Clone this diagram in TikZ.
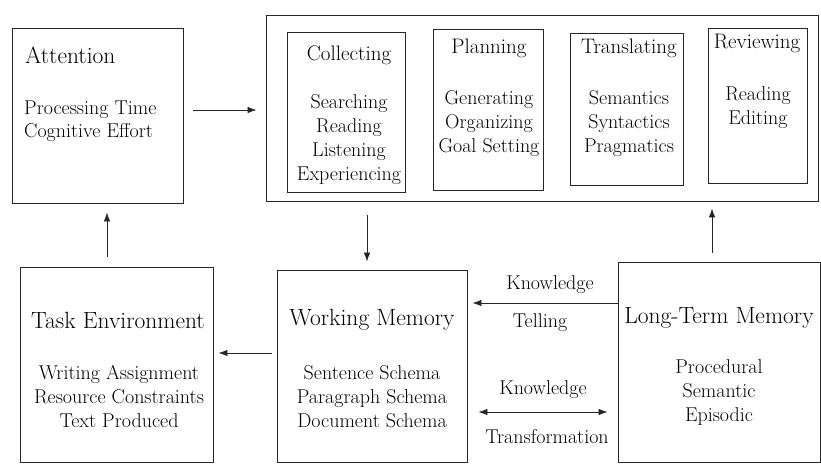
\documentclass[tikz,border=0pt]{standalone}
\usetikzlibrary{arrows.meta}
\tikzset{
  box/.style={draw=black!85, line width=0.9pt, inner sep=0pt},
  arr/.style={draw=black!85, line width=0.8pt, -{Latex[length=9pt,width=6.5pt]}},
  darr/.style={draw=black!85, line width=0.8pt, {Latex[length=9pt,width=6.5pt]}-{Latex[length=9pt,width=6.5pt]}},
  bigt/.style={font=\fontsize{23.5}{27}\selectfont, inner sep=0pt},
  midt/.style={font=\fontsize{21}{24}\selectfont, inner sep=0pt},
  body/.style={font=\fontsize{20}{24}\selectfont, align=center, inner sep=0pt},
  bodyl/.style={font=\fontsize{20}{22.5}\selectfont, align=left, inner sep=0pt, anchor=west},
}
\begin{document}
\begin{tikzpicture}[x=1pt,y=-1pt]
\useasboundingbox (0,0) rectangle (821,465);
% boxes
\node[box, minimum width=171pt, minimum height=175pt] (att) at (97.5,115.5) {};
\node[box, minimum width=552pt, minimum height=186pt] (outer) at (542,108) {};
\node[box, minimum width=118pt, minimum height=160pt] (col) at (346,112) {};
\node[box, minimum width=110pt, minimum height=161pt] (pla) at (488,109.5) {};
\node[box, minimum width=113pt, minimum height=152pt] (tra) at (626.5,109) {};
\node[box, minimum width=99pt, minimum height=155pt] (rev) at (757.5,105.5) {};
\node[box, minimum width=193pt, minimum height=195pt] (task) at (116.5,364.5) {};
\node[box, minimum width=190pt, minimum height=192pt] (wm) at (372,366) {};
\node[box, minimum width=202pt, minimum height=200pt] (ltm) at (719,362) {};
% texts
\node[bigt, anchor=west] (attT) at (25,55) {Attention};
\node[bodyl] (attB) at (24,121) {Processing Time\\Cognitive Effort};
\node[midt] (colT) at (349,55) {Collecting};
\node[body] (colB) at (349,139.5) {Searching\\Reading\\Listening\\Experiencing};
\node[midt] (plaT) at (489,48) {Planning};
\node[body] (plaB) at (489,124) {Generating\\Organizing\\Goal Setting};
\node[midt] (traT) at (629,48) {Translating};
\node[body] (traB) at (629,124) {Semantics\\Syntactics\\Pragmatics};
\node[midt] (revT) at (757,43) {Reviewing};
\node[body] (revB) at (758,108) {Reading\\Editing};
\node[bigt] (taskT) at (118,320) {Task Environment};
\node[body] (taskB) at (119,397) {Writing Assignment\\Resource Constraints\\Text Produced};
\node[bigt] (wmT) at (372,320) {Working Memory};
\node[body] (wmB) at (372,397) {Sentence Schema\\Paragraph Schema\\Document Schema};
\node[bigt] (ltmT) at (719,318) {Long-Term Memory};
\node[body] (ltmB) at (719,393) {Procedural\\Semantic\\Episodic};
\node[body] (k1) at (550,285) {Knowledge};
\node[body] (k1b) at (540,323) {Telling};
\node[body] (k2) at (543,390) {Knowledge};
\node[body] (k2b) at (547,437) {Transformation};
% arrows
\draw[arr] ([xshift=10pt,yshift=5.5pt]att.east) -- ([xshift=-9pt,yshift=-2pt]outer.west);
\draw[arr] ([xshift=-9.5pt,yshift=10pt]task.north) -- ([xshift=9.5pt,yshift=-9pt]att.south);
\draw[arr] ([xshift=-175pt,yshift=-14pt]outer.south) -- ([xshift=-5pt,yshift=8pt]wm.north);
\draw[arr] ([xshift=-7pt,yshift=9pt]ltm.north) -- ([xshift=170pt,yshift=-7pt]outer.south);
\draw[arr] ([xshift=-5pt,yshift=13pt]wm.west) -- ([xshift=5pt,yshift=11.5pt]task.east);
\draw[arr] ([yshift=59pt]ltm.west) -- ([xshift=5pt,yshift=63pt]wm.east);
\draw[darr] ([xshift=11pt,yshift=-46pt]wm.east) -- ([xshift=-10pt,yshift=-50pt]ltm.west);
\end{tikzpicture}
\end{document}
